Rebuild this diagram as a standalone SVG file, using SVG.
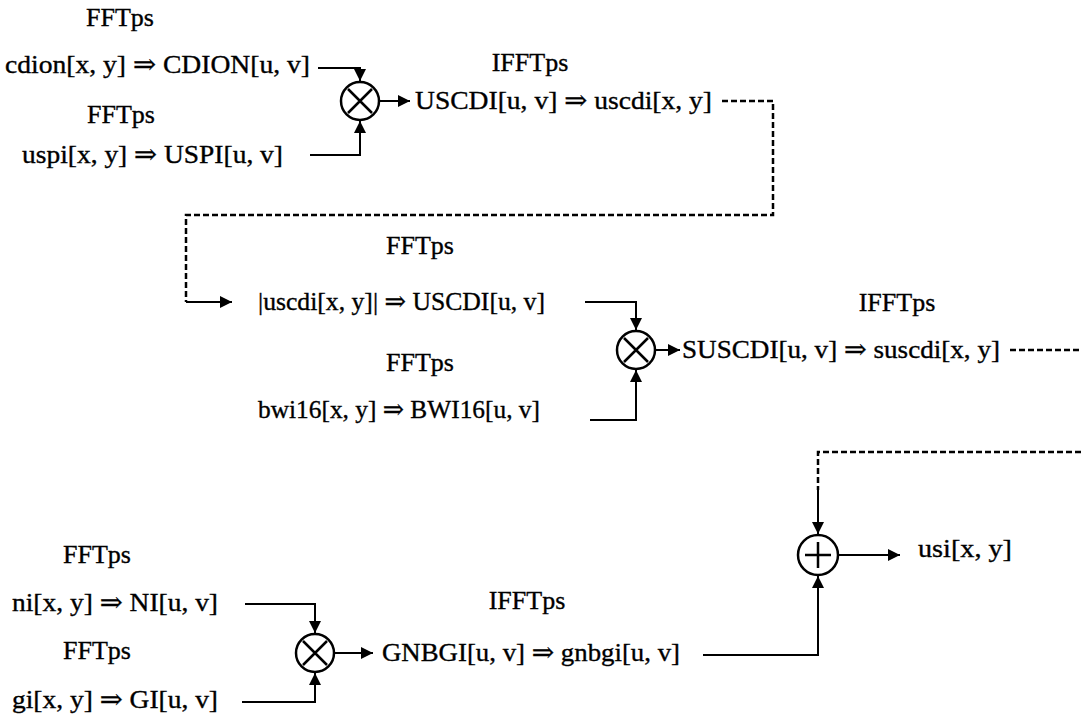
<svg xmlns="http://www.w3.org/2000/svg" width="1081" height="720" viewBox="0 0 1081 720">
<style>
text{font-family:"Liberation Serif","DejaVu Serif",serif;font-size:26px;fill:#000;stroke:#000;stroke-width:0.35}
.lbl{text-anchor:middle}
.ln{fill:none;stroke:#000;stroke-width:2}
.dash{fill:none;stroke:#000;stroke-width:2.5;stroke-dasharray:6 3}
.op{fill:#fff;stroke:#000;stroke-width:2.5}
.sym{fill:none;stroke:#000;stroke-width:2.5}
</style>
<defs>
<marker id="ah" markerUnits="userSpaceOnUse" markerWidth="14" markerHeight="14" viewBox="0 0 14 14" refX="13" refY="7" orient="auto">
<path d="M1,1 L13,7 L1,13 Z" fill="#000"/>
</marker>
</defs>
<rect width="1081" height="720" fill="#fff"/>
<g id="connectors">
<path class="ln" d="M318,68 H360 V81" marker-end="url(#ah)"/>
<path class="ln" d="M310,155 H360 V121" marker-end="url(#ah)"/>
<path class="ln" d="M379,101 H410" marker-end="url(#ah)"/>
<path class="dash" d="M722,101 H773 V215 H186 V302"/>
<path class="ln" d="M186,302 H232" marker-end="url(#ah)"/>
<path class="ln" d="M585,302 H636 V330" marker-end="url(#ah)"/>
<path class="ln" d="M590,420 H636 V370" marker-end="url(#ah)"/>
<path class="ln" d="M655,350 H680" marker-end="url(#ah)"/>
<path class="dash" d="M1010,350 H1081"/>
<path class="dash" d="M1081,452 H818 V490"/>
<path class="ln" d="M818,490 V534" marker-end="url(#ah)"/>
<path class="ln" d="M703,655 H818 V576" marker-end="url(#ah)"/>
<path class="ln" d="M838,555 H900" marker-end="url(#ah)"/>
<path class="ln" d="M245,604 H315 V633" marker-end="url(#ah)"/>
<path class="ln" d="M242,702 H315 V673" marker-end="url(#ah)"/>
<path class="ln" d="M334,653 H373" marker-end="url(#ah)"/>
</g>
<g id="mul1"><circle class="op" cx="360" cy="101" r="19"/><path class="sym" d="M348,89 L372,113 M372,89 L348,113"/></g>
<g id="mul2"><circle class="op" cx="636" cy="350" r="19"/><path class="sym" d="M624,338 L648,362 M648,338 L624,362"/></g>
<g id="mul3"><circle class="op" cx="315" cy="653" r="19"/><path class="sym" d="M303,641 L327,665 M327,641 L303,665"/></g>
<g id="add1"><circle class="op" cx="818" cy="555" r="20"/><path class="sym" d="M805,555 H831 M818,542 V568"/></g>
<g id="n-cdion"><text class="lbl" x="120" y="26">FFTps</text><text x="5" y="73" textLength="305" lengthAdjust="spacingAndGlyphs">cdion[x, y] ⇒ CDION[u, v]</text></g>
<g id="n-uspi"><text class="lbl" x="121" y="123">FFTps</text><text x="22" y="163" textLength="261" lengthAdjust="spacingAndGlyphs">uspi[x, y] ⇒ USPI[u, v]</text></g>
<g id="n-uscdi"><text class="lbl" x="530" y="71">IFFTps</text><text x="415" y="109" textLength="297" lengthAdjust="spacingAndGlyphs">USCDI[u, v] ⇒ uscdi[x, y]</text></g>
<g id="n-abs"><text class="lbl" x="420" y="254">FFTps</text><text x="258" y="310" textLength="287" lengthAdjust="spacingAndGlyphs">|uscdi[x, y]| ⇒ USCDI[u, v]</text></g>
<g id="n-bwi"><text class="lbl" x="420" y="371">FFTps</text><text x="258" y="418" textLength="282" lengthAdjust="spacingAndGlyphs">bwi16[x, y] ⇒ BWI16[u, v]</text></g>
<g id="n-suscdi"><text class="lbl" x="897" y="311">IFFTps</text><text x="682" y="358" textLength="318" lengthAdjust="spacingAndGlyphs">SUSCDI[u, v] ⇒ suscdi[x, y]</text></g>
<g id="n-usi"><text x="918" y="557" textLength="94" lengthAdjust="spacingAndGlyphs">usi[x, y]</text></g>
<g id="n-ni"><text class="lbl" x="97" y="563">FFTps</text><text x="12" y="611" textLength="206" lengthAdjust="spacingAndGlyphs">ni[x, y] ⇒ NI[u, v]</text></g>
<g id="n-gi"><text class="lbl" x="97" y="659">FFTps</text><text x="12" y="708" textLength="206" lengthAdjust="spacingAndGlyphs">gi[x, y] ⇒ GI[u, v]</text></g>
<g id="n-gnbgi"><text class="lbl" x="527" y="609">IFFTps</text><text x="382" y="661" textLength="298" lengthAdjust="spacingAndGlyphs">GNBGI[u, v] ⇒ gnbgi[u, v]</text></g>
</svg>
